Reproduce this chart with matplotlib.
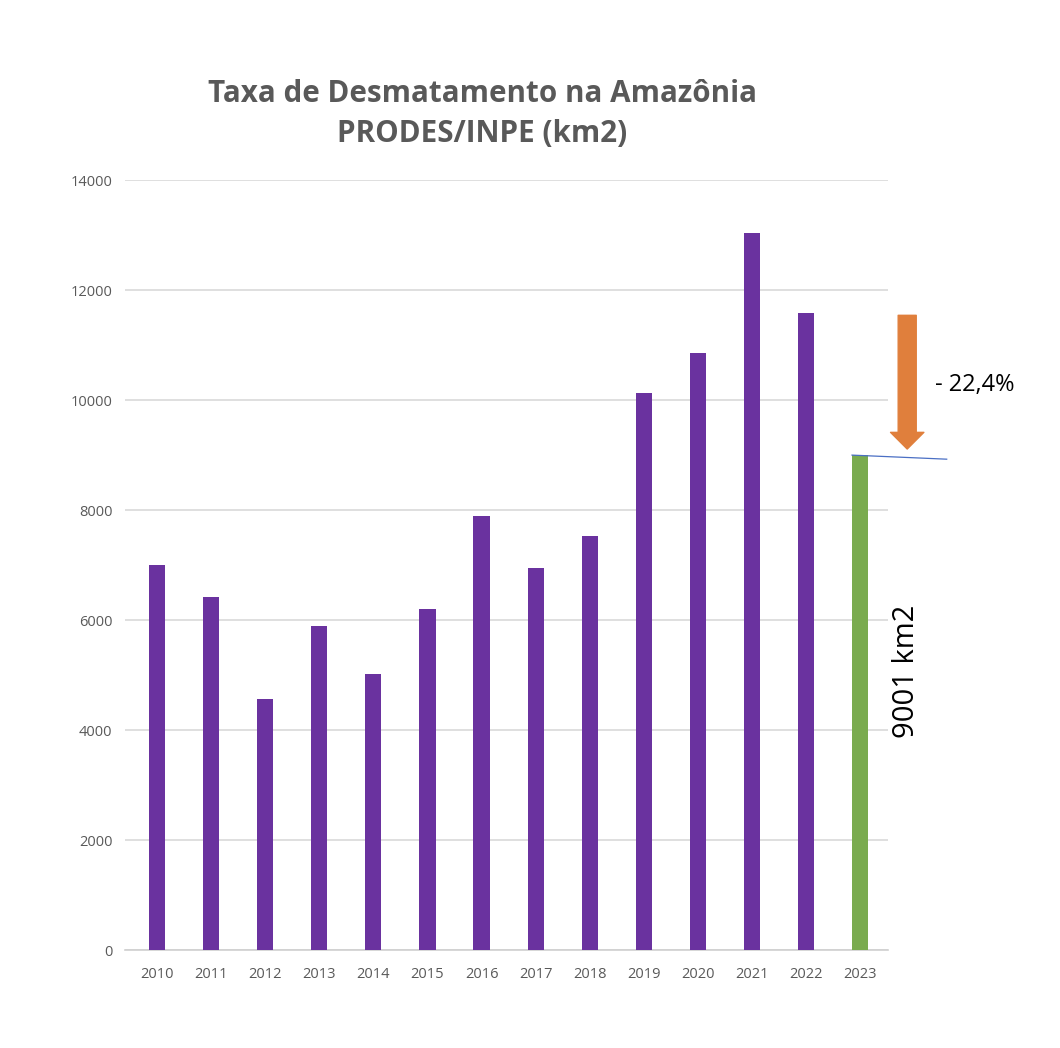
import matplotlib
matplotlib.use("Agg")
import matplotlib.pyplot as plt
from matplotlib.patches import FancyArrowPatch

years = ["2010", "2011", "2012", "2013", "2014", "2015", "2016", "2017",
         "2018", "2019", "2020", "2021", "2022", "2023"]
values = [7000, 6418, 4571, 5891, 5012, 6207, 7893, 6947, 7536, 10129,
          10851, 13038, 11594, 9001]
colors = ["#6A329F"] * 13 + ["#7AAB4F"]
yticks = [0, 2000, 4000, 6000, 8000, 10000, 12000, 14000]

plt.rcParams['font.family'] = ['Open Sans', 'DejaVu Sans']

fig = plt.figure(figsize=(10.6, 10.48), dpi=100)
ax = fig.add_axes([0.118, 0.0935, 0.72, 0.7345])
x = list(range(len(years)))
ax.bar(x, values, width=0.3, color=colors, zorder=3)
ax.set_xlim(-0.59, 13.52)
ax.set_ylim(0, 14000)
ax.set_yticks(yticks)
ax.set_yticklabels([str(t) for t in yticks])
ax.set_xticks(x)
ax.set_xticklabels(years)
ax.tick_params(length=0, labelsize=10.5, colors="#595959")
ax.tick_params(axis='x', pad=12)
ax.tick_params(axis='y', pad=9)
for s in ["top", "right", "left"]:
    ax.spines[s].set_visible(False)
ax.spines["bottom"].set_color("#D0D0D0")
ax.spines["bottom"].set_linewidth(1.2)
ax.yaxis.grid(True, color="#D9D9D9", linewidth=1.2, zorder=0)
ax.set_axisbelow(True)

fig.text(0.455, 0.910, "Taxa de Desmatamento na Amazônia", ha="center", va="center",
         fontsize=21.3, fontweight="bold", color="#595959")
fig.text(0.455, 0.872, "PRODES/INPE (km2)", ha="center", va="center",
         fontsize=21.3, fontweight="bold", color="#595959")

arrow = FancyArrowPatch((13.87, values[12]), (13.87, values[13] + 60),
                        arrowstyle="simple,head_width=24,head_length=12,tail_width=13",
                        mutation_scale=1, color="#E07F3C", clip_on=False, zorder=5)
ax.add_patch(arrow)

ax.plot([12.85, 14.6], [values[13], 8927], color="#4A6FC4", linewidth=0.9,
        clip_on=False, zorder=6)

fig.text(0.882, 0.633, "- 22,4%", ha="left", va="center", fontsize=17, color="black")
fig.text(0.855, 0.359, "9001 km2", ha="center", va="center", fontsize=21,
         rotation=90, color="black")

fig.savefig("out.png", dpi=100)
